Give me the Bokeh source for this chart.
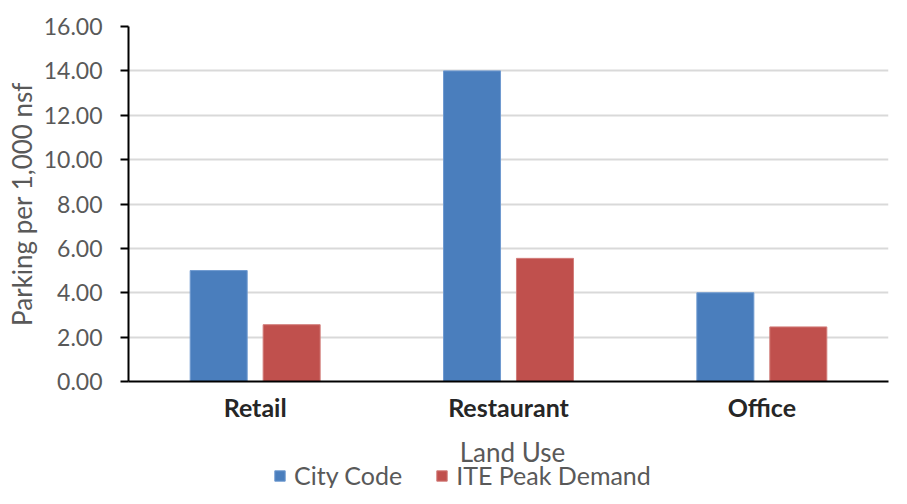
from bokeh.plotting import figure
from bokeh.layouts import column
from bokeh.models import (ColumnDataSource, FactorRange, Legend, LegendItem, NumeralTickFormatter,
                          FixedTicker, Range1d, Label)
from bokeh.transform import dodge
from bokeh.embed import file_html
from bokeh.resources import INLINE

categories = ["Retail", "Restaurant", "Office"]
city_code = [5.0, 14.0, 4.0]
ite_peak = [2.56, 5.55, 2.46]
y_ticks = [0, 2, 4, 6, 8, 10, 12, 14, 16]
series_names = ["City Code", "ITE Peak Demand"]
x_title = "Land Use"
y_title = "Parking per 1,000 nsf"

FONT = "Lato"
GRAY = "#595959"
BLUE, BLUE_EDGE = "#4a7ebd", "#6f9ad0"
RED, RED_EDGE = "#c0504d", "#d27d7a"

src = ColumnDataSource(dict(cat=categories, city=city_code, ite=ite_peak))

p = figure(width=891, height=436, output_backend="svg", toolbar_location=None,
           x_range=FactorRange(*categories, range_padding=0), y_range=(0, 16),
           min_border_left=128, min_border_right=3, min_border_top=26, min_border_bottom=55)
p.outline_line_color = None

p.vbar(x=dodge("cat", -0.144, range=p.x_range), top="city", width=0.225, source=src,
       fill_color=BLUE, line_color=BLUE_EDGE, line_width=1)
p.vbar(x=dodge("cat", 0.144, range=p.x_range), top="ite", width=0.225, source=src,
       fill_color=RED, line_color=RED_EDGE, line_width=1)

p.xgrid.grid_line_color = None
p.ygrid.grid_line_color = "#d9d9d9"
p.ygrid.grid_line_width = 2

p.yaxis.ticker = FixedTicker(ticks=y_ticks)
p.yaxis.formatter = NumeralTickFormatter(format="0.00")
p.yaxis.minor_tick_line_color = None
p.yaxis.major_tick_in = 0
p.yaxis.major_tick_out = 8
p.yaxis.major_tick_line_width = 2
p.yaxis.major_tick_line_color = "black"
p.yaxis.axis_line_width = 2
p.yaxis.axis_line_color = "black"
p.yaxis.major_label_standoff = 18
p.yaxis.major_label_text_font = FONT
p.yaxis.major_label_text_font_size = "23px"
p.yaxis.major_label_text_color = GRAY
p.yaxis.axis_label = y_title
p.yaxis.axis_label_text_font = FONT
p.yaxis.axis_label_text_font_size = "26px"
p.yaxis.axis_label_text_font_style = "normal"
p.yaxis.axis_label_text_color = GRAY
p.yaxis.axis_label_standoff = 3

p.xaxis.major_tick_line_color = None
p.xaxis.major_tick_out = 0
p.xaxis.major_tick_in = 0
p.xaxis.axis_line_width = 2
p.xaxis.axis_line_color = "black"
p.xaxis.major_label_standoff = 10
p.xaxis.major_label_text_font = FONT
p.xaxis.major_label_text_font_size = "25px"
p.xaxis.major_label_text_font_style = "bold"
p.xaxis.major_label_text_color = "#262626"

# strip below the chart: x-axis title and legend
lg = figure(width=891, height=52, output_backend="svg", toolbar_location=None,
            x_range=Range1d(0, 1), y_range=Range1d(0, 1),
            min_border_left=128, min_border_right=3, min_border_top=0, min_border_bottom=0)
lg.outline_line_color = None
lg.axis.visible = False
lg.grid.visible = False
lg.add_layout(Label(x=384, y=37, x_units="screen", y_units="screen", text=x_title,
                    text_align="center", text_baseline="middle", text_font=FONT,
                    text_font_size="26px", text_color=GRAY))
proxy = ColumnDataSource(dict(x=[-5.0], top=[0.0]))
e1 = lg.vbar(x="x", top="top", width=0.01, source=proxy, fill_color=BLUE, line_color=BLUE_EDGE)
e2 = lg.vbar(x="x", top="top", width=0.01, source=proxy, fill_color=RED, line_color=RED_EDGE)
legend = Legend(items=[LegendItem(label=series_names[0], renderers=[e1]),
                       LegendItem(label=series_names[1], renderers=[e2])],
                orientation="horizontal", location=(145, -2),
                padding=0, margin=0, spacing=33, label_standoff=8,
                glyph_width=13, glyph_height=13, label_height=18,
                border_line_color=None, background_fill_alpha=0,
                label_text_font=FONT, label_text_font_size="25px", label_text_color=GRAY)
lg.add_layout(legend, "center")

layout = column(p, lg, spacing=0)
open("out.html", "w").write(file_html(layout, INLINE))
